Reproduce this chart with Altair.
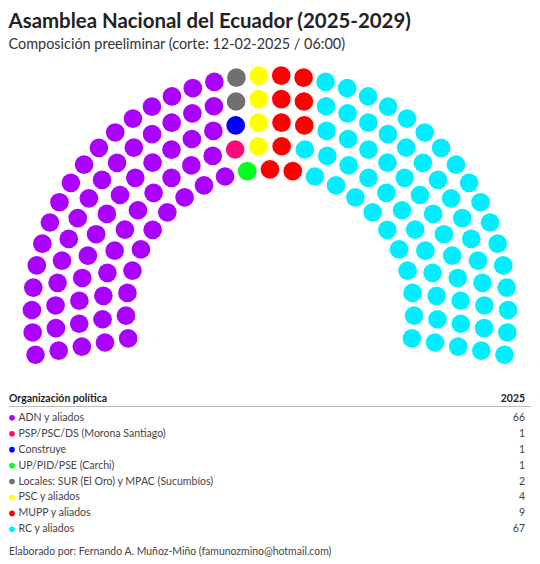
import math
import altair as alt
import pandas as pd

# ---- data ----
parties = [
    "ADN y aliados",
    "PSP/PSC/DS (Morona Santiago)",
    "Construye",
    "UP/PID/PSE (Carchi)",
    "Locales: SUR (El Oro) y MPAC (Sucumbíos)",
    "PSC y aliados",
    "MUPP y aliados",
    "RC y aliados",
]
seats = [66, 1, 1, 1, 2, 4, 9, 67]
colors = ["#aa00ff", "#ff0a78", "#0000ff", "#00ff22", "#707070", "#ffff00", "#ff0000", "#00eeff"]
year_label = "2025"

# ---- hemicycle layout (style) ----
row_counts = [23, 26, 30, 34, 38]
inner_r = 0.605
arc_start = 190.0
arc_end = -10.0

slots = []
for ri, n in enumerate(row_counts):
    r = inner_r + (1 - inner_r) * ri / (len(row_counts) - 1)
    for i in range(n):
        frac = i / (n - 1)
        ang = math.radians(arc_start - frac * (arc_start - arc_end))
        slots.append((round(frac, 9), ri, r * math.cos(ang), r * math.sin(ang)))
slots.sort(key=lambda s: (s[0], s[1]))

owners = []
for p, s in zip(parties, seats):
    owners += [p] * s
seat_df = pd.DataFrame({
    "party": owners,
    "x": [s[2] for s in slots],
    "y": [s[3] for s in slots],
})

leg_df = pd.DataFrame({"party": parties, "seats": seats, "idx": list(range(len(parties)))})

# ---- geometry (style) ----
W, H = 524, 490
T = 63            # expected page offset of plot top
PX = 239          # px per unit radius
CY = 311.5        # page y of hemicycle centre
xdom = [-(W / 2) / PX, (W / 2) / PX]
ydom = [-(T + H - CY) / PX, (CY - T) / PX]
row0 = 416.3 - T
row_step = 16

color_scale = alt.Scale(domain=parties, range=colors)
FONT = "Lato"

dots = alt.Chart(seat_df).mark_circle(size=350, opacity=1).encode(
    x=alt.X("x:Q", scale=alt.Scale(domain=xdom, nice=False, zero=False), axis=None),
    y=alt.Y("y:Q", scale=alt.Scale(domain=ydom, nice=False, zero=False), axis=None),
    color=alt.Color("party:N", scale=color_scale, legend=None),
)

yleg = alt.Y("idx:Q", scale=alt.Scale(domain=[0, len(parties) - 1],
                                      range=[row0, row0 + row_step * (len(parties) - 1)]), axis=None)

leg_dots = alt.Chart(leg_df).mark_circle(size=32, opacity=1).encode(
    x=alt.value(3), y=yleg,
    color=alt.Color("party:N", scale=color_scale, legend=None),
)
leg_text = alt.Chart(leg_df).mark_text(align="left", baseline="middle", font=FONT,
                                       fontSize=10.6, color="#444").encode(
    x=alt.value(9.5), y=yleg, text="party:N")
leg_vals = alt.Chart(leg_df).mark_text(align="right", baseline="middle", font=FONT,
                                       fontSize=10.6, color="#444").encode(
    x=alt.value(518), y=yleg, text="seats:Q")

hdr = pd.DataFrame({"a": ["Organización política"], "b": [year_label]})
hdr_l = alt.Chart(hdr).mark_text(align="left", baseline="middle", font=FONT, fontSize=10.5,
                                 fontWeight="bold", color="#222").encode(
    x=alt.value(0), y=alt.value(397.3 - T), text="a:N")
hdr_r = alt.Chart(hdr).mark_text(align="right", baseline="middle", font=FONT, fontSize=10.5,
                                 fontWeight="bold", color="#222").encode(
    x=alt.value(518), y=alt.value(397.3 - T), text="b:N")
hdr_rule = alt.Chart(hdr).mark_rule(color="#bbbbbb", strokeWidth=1).encode(
    x=alt.value(0), x2=alt.value(W), y=alt.value(405 - T))

foot = pd.DataFrame({"t": ["Elaborado por: Fernando A. Muñoz-Miño (famunozmino@hotmail.com)"]})
foot_t = alt.Chart(foot).mark_text(align="left", baseline="middle", font=FONT, fontSize=10.5,
                                   color="#444").encode(
    x=alt.value(0), y=alt.value(551 - T), text="t:N")

chart = alt.layer(dots, leg_dots, leg_text, leg_vals, hdr_l, hdr_r, hdr_rule, foot_t).resolve_scale(
    x="independent", y="independent"
).properties(
    width=W, height=H, padding={"top": 3, "left": 0, "right": 0, "bottom": 0},
    title=alt.TitleParams(
        text="Asamblea Nacional del Ecuador (2025-2029)",
        subtitle="Composición preeliminar (corte: 12-02-2025 / 06:00)",
        anchor="start", font=FONT, fontSize=20.5, fontWeight="bold", color="#222",
        subtitleFont=FONT, subtitleFontSize=14.5, subtitleColor="#333",
        subtitlePadding=6, offset=14,
    ),
).configure_view(strokeWidth=0)

chart.save("out.html", embed_options={"renderer": "svg", "actions": False})
